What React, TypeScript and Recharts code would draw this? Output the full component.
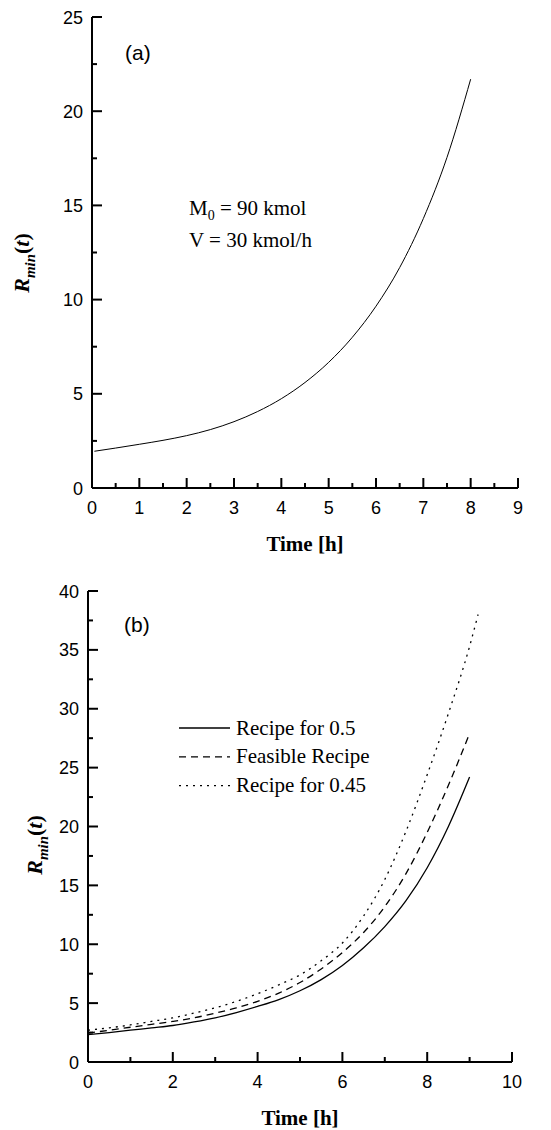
import React from "react";
import { LineChart, Line, XAxis, YAxis, Legend, Customized } from "recharts";

// (a) minimum reflux ratio, single profile
const timeA = [0.05, 0.5, 1, 1.5, 2, 2.5, 3, 3.5, 4, 4.5, 5, 5.5, 6, 6.5, 7, 7.5, 8];
const rminA = [1.95, 2.12, 2.32, 2.53, 2.78, 3.1, 3.52, 4.06, 4.74, 5.6, 6.67, 8.0, 9.65, 11.7, 14.3, 17.55, 21.7];

// (b) three recipes
const timeB = [0, 0.5, 1, 1.5, 2, 2.5, 3, 3.5, 4, 4.5, 5, 5.5, 6, 6.5, 7, 7.5, 8, 8.5, 9];
const rmin05 = [2.32, 2.5, 2.7, 2.9, 3.1, 3.4, 3.75, 4.2, 4.72, 5.3, 6.05, 7.0, 8.2, 9.7, 11.5, 13.7, 16.5, 20.0, 24.2];
const rminFeasible = [2.45, 2.7, 2.95, 3.2, 3.45, 3.75, 4.15, 4.6, 5.15, 5.85, 6.75, 7.9, 9.3, 11.0, 13.2, 16.0, 19.5, 23.5, 27.9];
const timeB045 = [0, 0.5, 1, 1.5, 2, 2.5, 3, 3.5, 4, 4.5, 5, 5.5, 6, 6.5, 7, 7.5, 8, 8.5, 9, 9.2];
const rmin045 = [2.7, 2.9, 3.15, 3.45, 3.75, 4.15, 4.6, 5.15, 5.8, 6.55, 7.4, 8.6, 10.1, 12.4, 15.5, 19.6, 24.4, 29.6, 35.3, 38.0];

const seriesNames = ["Recipe for 0.5", "Feasible Recipe", "Recipe for 0.45"];
const seriesDash = ["", "7 5", "2 5"];

// axis ticks (majors get labels, the rest are minor marks)
const xTicksA = [0, 0.5, 1, 1.5, 2, 2.5, 3, 3.5, 4, 4.5, 5, 5.5, 6, 6.5, 7, 7.5, 8, 8.5, 9];
const yTicksA = [0, 2.5, 5, 7.5, 10, 12.5, 15, 17.5, 20, 22.5, 25];
const xTicksB = [0, 1, 2, 3, 4, 5, 6, 7, 8, 9, 10];
const yTicksB = [0, 2.5, 5, 7.5, 10, 12.5, 15, 17.5, 20, 22.5, 25, 27.5, 30, 32.5, 35, 37.5, 40];

const dataA = timeA.map((t, i) => ({ t, r: rminA[i] }));
const dataB = [
  timeB.map((t, i) => ({ t, r: rmin05[i] })),
  timeB.map((t, i) => ({ t, r: rminFeasible[i] })),
  timeB045.map((t, i) => ({ t, r: rmin045[i] })),
];

const SANS = "'Liberation Sans', Arial, sans-serif";
const SERIF = "'Liberation Serif', 'Times New Roman', serif";
const axisLine = { stroke: "#000", strokeWidth: 2 };

// ticks point into the plot; x,y arrive sitting on the axis line
const xTick = (isMajor: (v: number) => boolean) => (props: any) => {
  const { x, y, payload } = props;
  const major = isMajor(payload.value);
  return (
    <g>
      <line x1={x} y1={y} x2={x} y2={y - (major ? 10 : 5)} stroke="#000" strokeWidth={2} />
      {major && (
        <text x={x} y={y + 26} textAnchor="middle" fontFamily={SANS} fontSize={18} fill="#000">
          {payload.value}
        </text>
      )}
    </g>
  );
};

const yTick = (isMajor: (v: number) => boolean) => (props: any) => {
  const { x, y, payload } = props;
  const major = isMajor(payload.value);
  return (
    <g>
      <line x1={x} y1={y} x2={x + (major ? 10 : 5)} y2={y} stroke="#000" strokeWidth={2} />
      {major && (
        <text x={x - 9} y={y + 6.5} textAnchor="end" fontFamily={SANS} fontSize={18} fill="#000">
          {payload.value}
        </text>
      )}
    </g>
  );
};

const RminLabel = ({ x, y, size }: { x: number; y: number; size: number }) => (
  <text
    transform={`translate(${x},${y}) rotate(-90)`}
    textAnchor="middle"
    fontFamily={SERIF}
    fontWeight="bold"
    fontSize={size}
    fill="#000"
  >
    <tspan fontStyle="italic">R</tspan>
    <tspan fontStyle="italic" fontSize={size * 0.68} dy={size * 0.25}>min</tspan>
    <tspan dy={-size * 0.25}>(</tspan>
    <tspan fontStyle="italic">t</tspan>
    <tspan>)</tspan>
  </text>
);

const TimeLabel = ({ x, y }: { x: number; y: number }) => (
  <text x={x} y={y} textAnchor="middle" fontFamily={SERIF} fontWeight="bold" fontSize={21} fill="#000">
    Time [h]
  </text>
);

const AnnotationsA = () => (
  <g>
    <text x={125} y={60} fontFamily={SANS} fontSize={21} fill="#000">(a)</text>
    <text x={189} y={215} fontFamily={SERIF} fontSize={21} fill="#000">
      M<tspan fontSize={14} dy={5}>0</tspan>
      <tspan dy={-5}> = 90 kmol</tspan>
    </text>
    <text x={189} y={247} fontFamily={SERIF} fontSize={21} fill="#000">V = 30 kmol/h</text>
    <RminLabel x={29} y={263} size={22} />
    <TimeLabel x={305} y={551} />
  </g>
);

const AnnotationsB = () => (
  <g>
    <text x={124} y={72} fontFamily={SANS} fontSize={21} fill="#000">(b)</text>
    <RminLabel x={42} y={285} size={22} />
    <TimeLabel x={300} y={565} />
  </g>
);

// legend rows in series order
const RecipeLegend = () => (
  <svg width={260} height={95} style={{ display: "block", overflow: "visible" }}>
    {seriesNames.map((name, i) => {
      const y = 10 + 28.8 * i;
      return (
        <g key={name}>
          <line x1={0} x2={51} y1={y} y2={y} stroke="#000" strokeWidth={1.3} strokeDasharray={seriesDash[i] || undefined} />
          <text x={57} y={y + 6.5} fontFamily={SERIF} fontSize={21} fill="#000">
            {name}
          </text>
        </g>
      );
    })}
  </svg>
);

export default function App() {
  return (
    <div style={{ position: "absolute", left: 0, top: 0, width: 551, height: 1130, background: "#fff" }}>
      <LineChart width={551} height={560} margin={{ top: 17, right: 33, bottom: 42, left: 52 }}>
        <XAxis
          type="number"
          dataKey="t"
          domain={[0, 9]}
          ticks={xTicksA}
          interval={0}
          tickSize={0}
          tickMargin={0}
          tickLine={false}
          axisLine={axisLine}
          height={30}
          tick={xTick((v) => Number.isInteger(v))}
        />
        <YAxis
          type="number"
          domain={[0, 25]}
          ticks={yTicksA}
          interval={0}
          tickSize={0}
          tickMargin={0}
          tickLine={false}
          axisLine={axisLine}
          width={40}
          tick={yTick((v) => v % 5 === 0)}
        />
        <Line
          data={dataA}
          dataKey="r"
          type="monotone"
          stroke="#000"
          strokeWidth={1}
          dot={false}
          activeDot={false}
          isAnimationActive={false}
        />
        <Customized component={<AnnotationsA />} />
      </LineChart>

      <LineChart width={551} height={570} margin={{ top: 31, right: 39, bottom: 38, left: 48 }}>
        <XAxis
          type="number"
          dataKey="t"
          domain={[0, 10]}
          ticks={xTicksB}
          interval={0}
          tickSize={0}
          tickMargin={0}
          tickLine={false}
          axisLine={axisLine}
          height={30}
          tick={xTick((v) => v % 2 === 0)}
        />
        <YAxis
          type="number"
          domain={[0, 40]}
          ticks={yTicksB}
          interval={0}
          tickSize={0}
          tickMargin={0}
          tickLine={false}
          axisLine={axisLine}
          width={40}
          tick={yTick((v) => v % 5 === 0)}
        />
        {dataB.map((d, i) => (
          <Line
            key={seriesNames[i]}
            name={seriesNames[i]}
            data={d}
            dataKey="r"
            type="monotone"
            stroke="#000"
            strokeWidth={1.3}
            strokeDasharray={seriesDash[i] || undefined}
            dot={false}
            activeDot={false}
            isAnimationActive={false}
          />
        ))}
        <Legend
          layout="vertical"
          align="center"
          verticalAlign="middle"
          content={<RecipeLegend />}
          wrapperStyle={{ left: 179, top: 158, width: 260, height: 95 }}
        />
        <Customized component={<AnnotationsB />} />
      </LineChart>
    </div>
  );
}
